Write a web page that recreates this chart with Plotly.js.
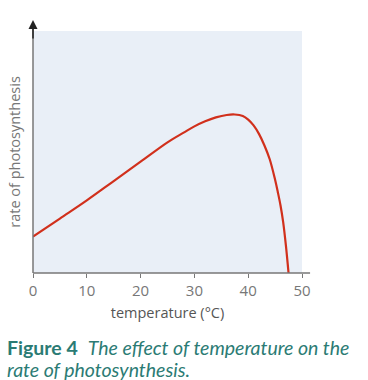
<!DOCTYPE html>
<html>
<head>
<meta charset="utf-8">
<script src="https://cdn.plot.ly/plotly-3.0.1.min.js"></script>
<style>
html,body{margin:0;padding:0;background:#fff;}
#chart{width:368px;height:380px;}
</style>
</head>
<body>
<div id="chart"></div>
<script>
var temperature = [0, 5, 10, 15, 20, 25, 28, 30, 32, 34, 36, 37.5, 39, 40, 41, 42, 43, 44, 45, 45.5, 46, 46.5, 47, 47.5];
var rate = [15, 22.5, 30, 38, 46, 54, 58, 60.6, 62.7, 64.3, 65.3, 65.5, 64.9, 63.4, 61, 57.5, 52.8, 47, 38.5, 33.5, 28, 21, 11.5, 0];
var xTicks = [0, 10, 20, 30, 40, 50];
var xTitle = 'temperature (°C)';
var yTitle = 'rate of photosynthesis';
var captionLine1 = '<b>Figure 4</b>  <i>The effect of temperature on the</i>';
var captionLine2 = '<i>rate of photosynthesis.</i>';

var trace = {
  x: temperature, y: rate, type: 'scatter', mode: 'lines',
  line: {color: '#d1301c', width: 2.2, shape: 'spline', smoothing: 1},
  hoverinfo: 'none'
};

var grey = '#777';
var layout = {
  width: 368, height: 380,
  margin: {l: 33, r: 66, t: 31, b: 107},
  paper_bgcolor: '#ffffff',
  plot_bgcolor: '#e9eff7',
  showlegend: false,
  font: {family: 'Open Sans, sans-serif', color: grey},
  xaxis: {
    range: [0, 50], tickvals: xTicks, ticktext: xTicks.map(String),
    showgrid: false, zeroline: false, showline: false,
    ticks: 'outside', ticklen: 4, tickcolor: grey, tickwidth: 1,
    tickfont: {size: 15, color: grey, family: 'Open Sans, sans-serif'},
    title: {text: xTitle, font: {size: 14.5, color: '#555'}, standoff: 8},
    fixedrange: true
  },
  yaxis: {
    range: [0, 100], showticklabels: false, showgrid: false, zeroline: false, showline: false,
    ticks: '',
    title: {text: yTitle, font: {size: 14.5, color: grey}, standoff: 7},
    fixedrange: true
  },
  shapes: [
    {type: 'line', xref: 'paper', yref: 'paper', x0: 0, x1: 1.03, y0: 0, y1: 0,
     line: {color: grey, width: 1.5}},
    {type: 'line', xref: 'paper', yref: 'paper', x0: 0, x1: 0, y0: 0, y1: 1.03,
     line: {color: grey, width: 1.5}}
  ],
  annotations: [
    {xref: 'paper', yref: 'paper', x: 0, y: 1.045, ax: 0, ay: 20, axref: 'pixel', ayref: 'pixel',
     showarrow: true, arrowhead: 2, arrowsize: 1.2, arrowwidth: 1.5, arrowcolor: '#222', text: ''},
    {xref: 'paper', yref: 'paper', x: -28/269, y: -74/242, xanchor: 'left', yanchor: 'middle',
     showarrow: false, align: 'left', text: captionLine1,
     font: {family: 'Lato, sans-serif', size: 19.5, color: '#2b7b74'}},
    {xref: 'paper', yref: 'paper', x: -28/269, y: -96/242, xanchor: 'left', yanchor: 'middle',
     showarrow: false, align: 'left', text: captionLine2,
     font: {family: 'Lato, sans-serif', size: 19.5, color: '#2b7b74'}}
  ]
};

Plotly.newPlot('chart', [trace], layout, {displayModeBar: false, staticPlot: true});
</script>
</body>
</html>
